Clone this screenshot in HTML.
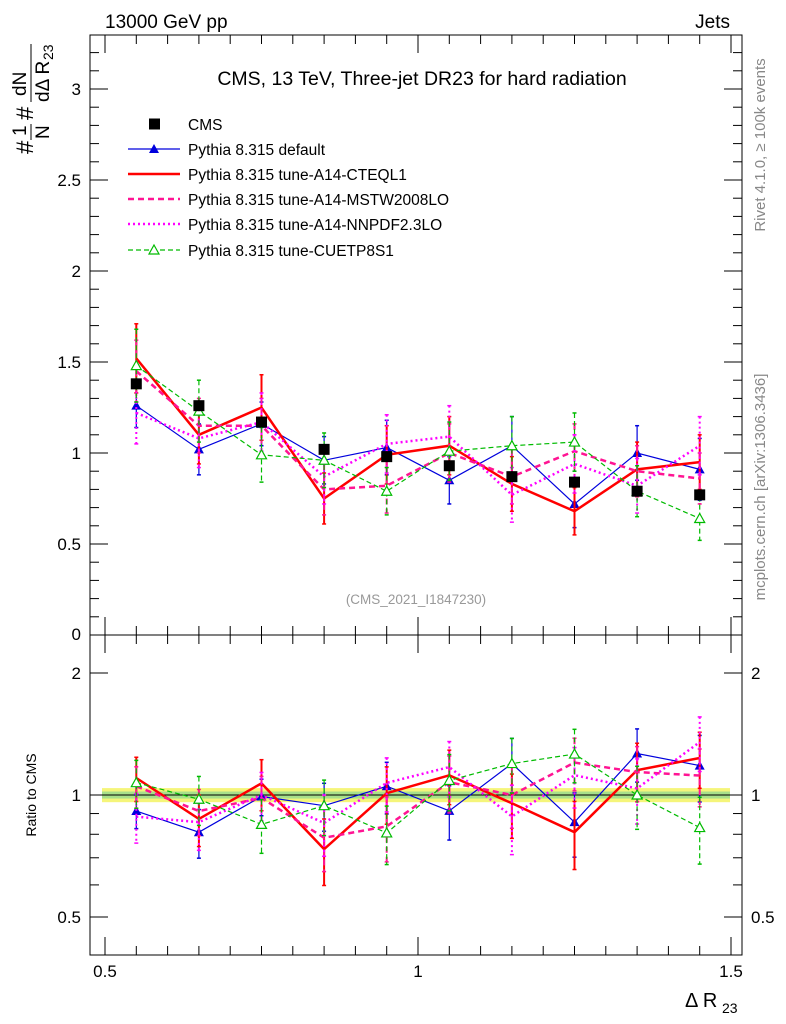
<!DOCTYPE html>
<html><head><meta charset="utf-8"><style>
body{margin:0;background:#fff;}
svg{display:block;font-family:"Liberation Sans",sans-serif;}
</style></head><body>
<svg id="chart" width="786" height="1024" viewBox="0 0 786 1024">
<g id="g"></g>
</svg>
<script>
const binCenters=[0.55,0.65,0.75,0.85,0.95,1.05,1.15,1.25,1.35,1.45];
const cmsVals=[1.38,1.26,1.17,1.02,0.98,0.93,0.87,0.84,0.79,0.77];
const cmsErr=[0.03,0.03,0.03,0.03,0.03,0.03,0.03,0.03,0.03,0.03];
const defVals=[1.26,1.02,1.16,0.96,1.03,0.85,1.04,0.72,1.00,0.91];
const defErr=[0.12,0.14,0.12,0.13,0.15,0.13,0.16,0.13,0.15,0.17];
const cteqVals=[1.52,1.10,1.25,0.75,0.99,1.04,0.83,0.68,0.91,0.95];
const cteqErr=[0.19,0.16,0.18,0.14,0.16,0.16,0.15,0.13,0.15,0.15];
const mstwVals=[1.45,1.15,1.15,0.80,0.82,1.00,0.87,1.01,0.90,0.86];
const mstwErr=[0.17,0.15,0.15,0.14,0.15,0.16,0.15,0.15,0.14,0.14];
const nnpdfVals=[1.22,1.08,1.17,0.87,1.05,1.09,0.77,0.94,0.82,1.04];
const nnpdfErr=[0.17,0.16,0.16,0.15,0.16,0.17,0.15,0.16,0.15,0.16];
const cuetVals=[1.48,1.23,0.99,0.96,0.79,1.01,1.04,1.06,0.79,0.64];
const cuetErr=[0.20,0.17,0.15,0.15,0.13,0.16,0.16,0.16,0.14,0.12];
const mainTicks=[0.5,1,1.5,2,2.5,3];
const ratioTicks=[0.5,1,2];
const xTicks=[0.5,1,1.5];
const legendLabels=["CMS","Pythia 8.315 default","Pythia 8.315 tune-A14-CTEQL1","Pythia 8.315 tune-A14-MSTW2008LO","Pythia 8.315 tune-A14-NNPDF2.3LO","Pythia 8.315 tune-CUETP8S1"];

const L=90,R=742,T=35,M=635,B=955;
const X=v=>105+(v-0.5)*626;
const Y=v=>635-v*182;
const YR=v=>795-122*Math.log2(v);
const NS="http://www.w3.org/2000/svg";
const g=document.getElementById('g');
function el(tag,attrs,parent){const e=document.createElementNS(NS,tag);for(const k in attrs)e.setAttribute(k,attrs[k]);(parent||g).appendChild(e);return e;}
function txt(s,attrs,parent){const e=el('text',attrs,parent);e.textContent=s;return e;}

const band=el('rect',{x:L+12,y:YR(1.04),width:R-L-24,height:YR(0.96)-YR(1.04),fill:'#f5f57a'});


const band2=el('rect',{x:L+12,y:YR(1.02),width:R-L-24,height:YR(0.98)-YR(1.02),fill:'#a8e08a'});


el('line',{x1:L,x2:R,y1:YR(1),y2:YR(1),stroke:'#000','stroke-width':1});

const f1=el('rect',{x:L,y:T,width:R-L,height:M-T,fill:'none',stroke:'#000'});


const f2=el('rect',{x:L,y:M,width:R-L,height:B-M,fill:'none',stroke:'#000'});



for(let v=0;v<=3.25;v+=0.1){const y=Y(v);if(y<T)break;const maj=Math.abs(v*2-Math.round(v*2))<1e-6;const len=maj?18:9;
 el('line',{x1:L,x2:L+len,y1:y,y2:y,stroke:'#000'});el('line',{x1:R,x2:R-len,y1:y,y2:y,stroke:'#000'});}
mainTicks.forEach(v=>{const t=txt(String(v),{x:81,y:Y(v)+6,'text-anchor':'end','font-size':17});
 });
txt('0',{x:81,y:640,'text-anchor':'end','font-size':17});
[0.5,0.6,0.7,0.8,0.9,1,2].forEach(v=>{const y=YR(v);const maj=ratioTicks.includes(v);const len=maj?18:9;
 el('line',{x1:L,x2:L+len,y1:y,y2:y,stroke:'#000'});el('line',{x1:R,x2:R-len,y1:y,y2:y,stroke:'#000'});});
ratioTicks.forEach(v=>{const a=txt(String(v),{x:81,y:YR(v)+6,'text-anchor':'end','font-size':17});
 
 const b=txt(String(v),{x:751,y:YR(v)+6,'font-size':17});
 });
for(let i=0;i<=21;i++){const v=0.45+i*0.05;const x=X(v);if(x<L||x>R)continue;const maj=xTicks.some(t=>Math.abs(t-v)<1e-6);const len=maj?18:9;
 [T,M].forEach(y0=>{el('line',{x1:x,x2:x,y1:y0,y2:y0+len,stroke:'#000'});});
 [M,B].forEach(y0=>{el('line',{x1:x,x2:x,y1:y0,y2:y0-len,stroke:'#000'});});}
xTicks.forEach(v=>{const t=txt(String(v),{x:X(v),y:977,'text-anchor':'middle','font-size':17});
 });

const series=[
 {name:'default',vals:defVals,err:defErr,color:'#0000dd',w:1.2,dash:'',mk:'tri-fill'},
 {name:'cteql1',vals:cteqVals,err:cteqErr,color:'#ff0000',w:2.5,dash:'',mk:''},
 {name:'mstw2008lo',vals:mstwVals,err:mstwErr,color:'#ff1493',w:2.5,dash:'6,4',mk:''},
 {name:'nnpdf23lo',vals:nnpdfVals,err:nnpdfErr,color:'#ff00ff',w:2.5,dash:'2,3',mk:''},
 {name:'cuetp8s1',vals:cuetVals,err:cuetErr,color:'#00bb00',w:1.2,dash:'5,3',mk:'tri-open'}
];
function marker(type,x,y,color,parent){
 if(type==='tri-fill')el('path',{d:`M${x},${y-5}L${x+5},${y+4}L${x-5},${y+4}Z`,fill:color},parent);
 if(type==='tri-open')el('path',{d:`M${x},${y-5}L${x+5},${y+4}L${x-5},${y+4}Z`,fill:'#fff',stroke:color,'stroke-width':1.2},parent);
}
function drawPanel(yf,isRatio){
 series.forEach(s=>{
  const grp=el('g',{});
  
  
  const pts=binCenters.map((c,i)=>{const v=isRatio?s.vals[i]/cmsVals[i]:s.vals[i];const e=isRatio?s.err[i]/cmsVals[i]:s.err[i];return [X(c),yf(v),yf(v+e),yf(Math.max(v-e,0.01))];});
  pts.forEach(p=>{el('line',{x1:p[0],x2:p[0],y1:p[2],y2:p[3],stroke:s.color,'stroke-width':s.w>2?2:1.2,'stroke-dasharray':s.dash},grp);
   el('line',{x1:p[0]-2,x2:p[0]+2,y1:p[2],y2:p[2],stroke:s.color,'stroke-width':1.5},grp);
   el('line',{x1:p[0]-2,x2:p[0]+2,y1:p[3],y2:p[3],stroke:s.color,'stroke-width':1.5},grp);});
  el('polyline',{points:pts.map(p=>p[0]+','+p[1]).join(' '),fill:'none',stroke:s.color,'stroke-width':s.w,'stroke-dasharray':s.dash},grp);
  pts.forEach(p=>marker(s.mk,p[0],p[1],s.color,grp));
 });
}
drawPanel(Y,false);
drawPanel(YR,true);
const cg=el('g',{});


binCenters.forEach((c,i)=>{const x=X(c),y=Y(cmsVals[i]);
 el('line',{x1:x,x2:x,y1:Y(cmsVals[i]+cmsErr[i]),y2:Y(cmsVals[i]-cmsErr[i]),stroke:'#000'},cg);
 el('rect',{x:x-5.5,y:y-5.5,width:11,height:11,fill:'#000'},cg);});

const lg=el('g',{});


const rowsY=[124,149,174,199,224,250];
legendLabels.forEach((lab,i)=>{const y=rowsY[i];
 const t=txt(lab,{x:188,y:y+6,'font-size':15.5},lg);
 
 if(i===0){el('rect',{x:149,y:y-5.5,width:11,height:11,fill:'#000'},lg);return;}
 const s=series[i-1];
 el('line',{x1:128,x2:180,y1:y,y2:y,stroke:s.color,'stroke-width':s.w,'stroke-dasharray':s.dash},lg);
 marker(s.mk,154,y,s.color,lg);});

txt('13000 GeV pp',{x:105,y:28,'font-size':19});
txt('Jets',{x:730,y:28,'font-size':19,'text-anchor':'end'});
txt('CMS, 13 TeV, Three-jet DR23 for hard radiation',{x:422,y:85,'font-size':19.5,'text-anchor':'middle'});
txt('(CMS_2021_I1847230)',{x:416,y:604,'font-size':13.5,'text-anchor':'middle',fill:'#999'});
txt('Ratio to CMS',{x:0,y:0,'font-size':14,'text-anchor':'middle',transform:'translate(36,795) rotate(-90)'});
txt('Rivet 4.1.0, \u2265 100k events',{x:0,y:0,'font-size':15,fill:'#888','text-anchor':'middle',transform:'translate(765,145) rotate(-90)'});
txt('mcplots.cern.ch [arXiv:1306.3436]',{x:0,y:0,'font-size':15,fill:'#888','text-anchor':'middle',transform:'translate(765,487) rotate(-90)'});
const xt=txt('\u0394 R',{x:685,y:1007,'font-size':20},g);

txt('23',{x:722,y:1013,'font-size':14});
const yt=el('g',{transform:'translate(33,96) rotate(-90)'});


txt('#',{x:-58,y:0,'font-size':24},yt);
txt('1',{x:-40,y:-7,'font-size':19},yt);
txt('N',{x:-43,y:16,'font-size':19},yt);
txt('#',{x:-24,y:0,'font-size':24},yt);
txt('dN',{x:0,y:-7,'font-size':19},yt);
txt('d\u0394 R',{x:-6,y:16,'font-size':19},yt);
txt('23',{x:36,y:20,'font-size':14},yt);
el('line',{x1:-44,x2:-28,y1:-2,y2:-2,stroke:'#000'},yt);
el('line',{x1:-6,x2:52,y1:-2,y2:-2,stroke:'#000'},yt);
</script>
</body></html>
